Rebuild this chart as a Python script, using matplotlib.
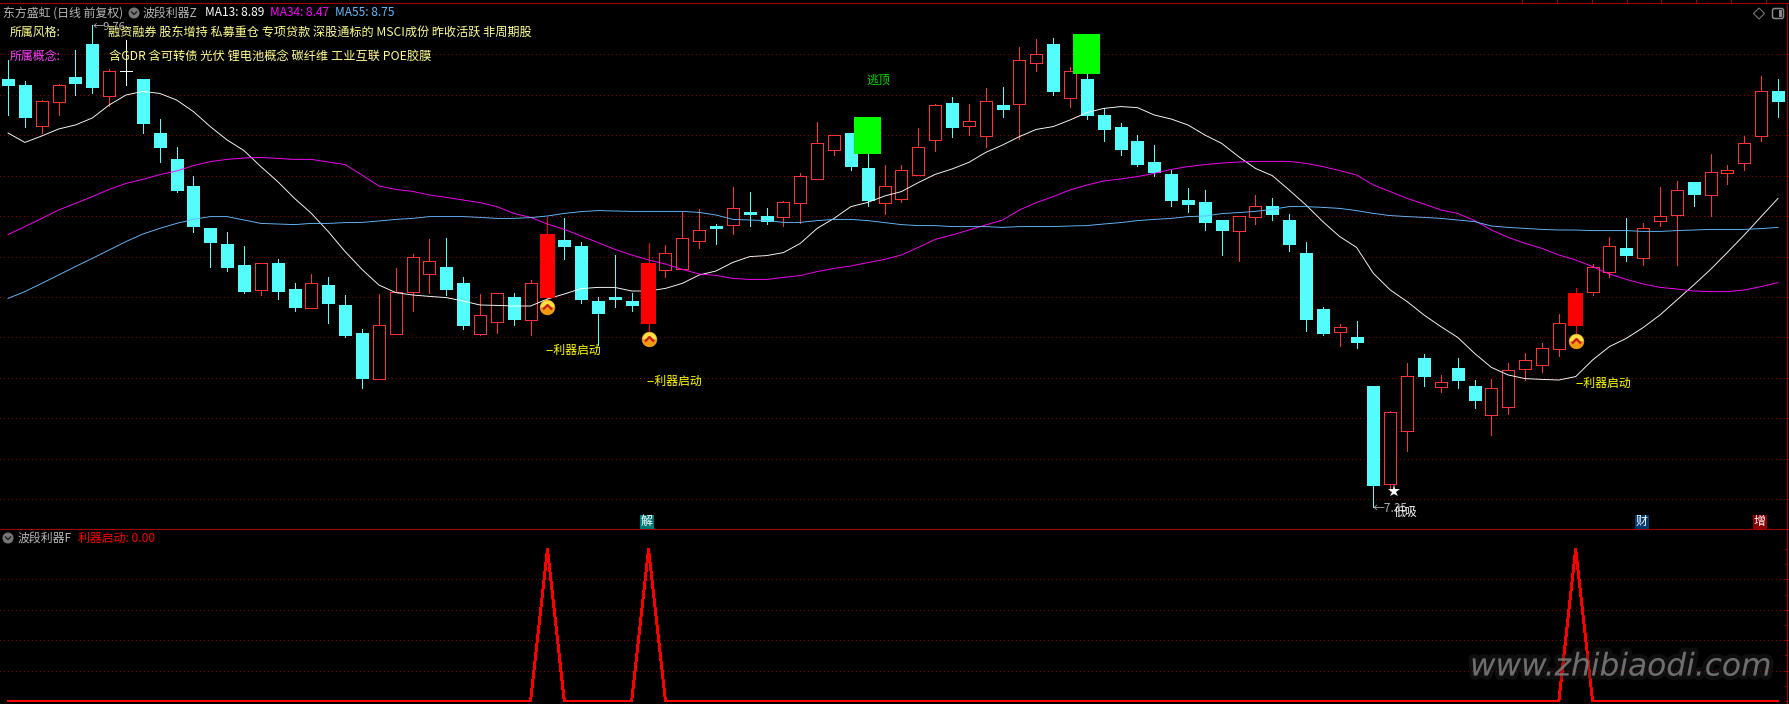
import matplotlib
matplotlib.use("Agg")
import matplotlib.pyplot as plt
import matplotlib.patheffects as pe
from matplotlib.path import Path
from matplotlib.patches import Circle, FancyBboxPatch, Polygon, Rectangle

plt.rcParams['font.family'] = ['Noto Sans CJK SC', 'DejaVu Sans']

opens = [9.487,9.457,9.254,9.374,9.497,9.662,9.404,9.527,9.487,9.217,
         9.087,8.952,8.742,8.662,8.557,8.434,8.567,8.437,8.344,8.457,
         8.357,8.217,7.989,8.214,8.424,8.514,8.547,8.467,8.214,8.274,
         8.397,8.284,8.392,8.682,8.652,8.377,8.397,8.377,8.262,8.534,
         8.535,8.679,8.752,8.759,8.822,8.802,8.799,8.869,8.987,9.134,
         9.217,9.042,8.869,8.887,9.009,9.184,9.367,9.254,9.204,9.357,
         9.364,9.569,9.662,9.394,9.487,9.307,9.247,9.177,9.072,9.012,
         8.882,8.872,8.782,8.729,8.797,8.852,8.782,8.617,8.337,8.224,
         8.197,7.952,7.464,7.729,8.092,7.949,8.042,7.952,7.809,7.849,
         8.039,8.059,8.139,8.252,8.424,8.524,8.642,8.594,8.779,8.809,
         8.972,8.909,9.019,9.069,9.204,9.427]
closes = [9.457,9.297,9.375,9.457,9.467,9.447,9.527,9.527,9.267,9.147,
          8.932,8.752,8.672,8.547,8.427,8.565,8.427,8.347,8.465,8.367,
          8.207,7.992,8.255,8.424,8.595,8.575,8.437,8.257,8.305,8.415,
          8.287,8.465,8.712,8.652,8.387,8.317,8.387,8.357,8.567,8.615,
          8.690,8.730,8.742,8.840,8.812,8.775,8.870,9.000,9.165,9.205,
          9.052,8.882,8.950,9.030,9.145,9.355,9.247,9.275,9.375,9.337,
          9.580,9.610,9.427,9.525,9.307,9.237,9.137,9.062,9.022,8.882,
          8.862,8.772,8.732,8.800,8.850,8.812,8.662,8.287,8.217,8.245,
          8.172,7.457,7.820,8.000,8.002,7.970,7.982,7.882,7.940,8.030,
          8.080,8.140,8.265,8.417,8.545,8.650,8.607,8.740,8.800,8.930,
          8.912,9.020,9.030,9.165,9.425,9.377]
highs = [9.582,9.477,9.382,9.462,9.632,9.757,9.537,9.682,9.487,9.287,
         9.147,9.002,8.742,8.722,8.652,8.565,8.587,8.467,8.512,8.497,
         8.407,8.237,8.412,8.542,8.612,8.687,8.692,8.497,8.412,8.415,
         8.417,8.482,8.797,8.792,8.672,8.397,8.607,8.417,8.667,8.657,
         8.822,8.837,8.762,8.947,8.922,8.842,8.877,9.017,9.272,9.205,
         9.217,9.112,9.057,9.057,9.242,9.362,9.397,9.362,9.442,9.447,
         9.647,9.687,9.692,9.547,9.512,9.342,9.267,9.207,9.157,9.032,
         8.942,8.932,8.782,8.800,8.907,8.892,8.812,8.672,8.347,8.262,
         8.277,7.952,7.827,8.067,8.112,8.007,8.092,7.982,7.987,8.067,
         8.117,8.167,8.312,8.442,8.562,8.697,8.792,8.767,8.947,8.977,
         8.972,9.112,9.057,9.202,9.502,9.487]
lows = [9.307,9.247,9.217,9.307,9.407,9.417,9.352,9.457,9.217,9.072,
        8.922,8.722,8.547,8.527,8.417,8.407,8.387,8.327,8.344,8.267,
        8.197,7.942,7.989,8.214,8.327,8.417,8.407,8.237,8.207,8.217,
        8.257,8.207,8.382,8.587,8.367,8.157,8.347,8.327,8.227,8.497,
        8.535,8.642,8.662,8.712,8.752,8.762,8.752,8.767,8.987,9.107,
        9.032,8.852,8.812,8.872,9.009,9.127,9.197,9.207,9.147,9.297,
        9.187,9.527,9.407,9.347,9.287,9.177,9.107,9.052,9.002,8.852,
        8.822,8.732,8.607,8.577,8.762,8.782,8.627,8.227,8.207,8.152,
        8.142,7.349,7.429,7.629,7.952,7.922,7.942,7.842,7.707,7.812,
        7.984,8.022,8.102,8.212,8.407,8.497,8.577,8.557,8.752,8.557,
        8.852,8.802,8.962,9.032,9.177,9.297]
ma13 = [9.217,9.170,9.202,9.237,9.257,9.292,9.357,9.407,9.425,9.415,
        9.382,9.324,9.249,9.182,9.129,9.049,8.974,8.890,8.815,8.724,
        8.624,8.535,8.457,8.419,8.407,8.400,8.394,8.377,8.357,8.355,
        8.352,8.352,8.387,8.412,8.439,8.445,8.445,8.427,8.427,8.440,
        8.465,8.507,8.527,8.570,8.599,8.604,8.619,8.665,8.740,8.790,
        8.849,8.870,8.902,8.924,8.969,9.010,9.037,9.070,9.120,9.157,
        9.199,9.235,9.249,9.282,9.319,9.340,9.349,9.344,9.307,9.287,
        9.257,9.207,9.165,9.099,9.040,9.004,8.932,8.857,8.774,8.699,
        8.645,8.515,8.432,8.374,8.307,8.249,8.195,8.115,8.045,8.007,
        7.989,7.985,7.982,7.999,8.082,8.149,8.190,8.244,8.307,8.382,
        8.457,8.535,8.620,8.707,8.799,8.890]
ma34 = [8.709,8.749,8.790,8.832,8.865,8.899,8.935,8.965,8.985,9.009,
        9.027,9.054,9.074,9.085,9.092,9.095,9.090,9.085,9.085,9.072,
        9.059,9.007,8.952,8.935,8.925,8.907,8.895,8.882,8.869,8.849,
        8.815,8.795,8.762,8.735,8.702,8.669,8.635,8.607,8.582,8.562,
        8.535,8.512,8.505,8.490,8.485,8.485,8.495,8.504,8.524,8.540,
        8.552,8.569,8.585,8.607,8.645,8.685,8.707,8.732,8.757,8.782,
        8.832,8.869,8.899,8.932,8.957,8.977,8.987,8.999,9.015,9.035,
        9.049,9.059,9.067,9.072,9.075,9.075,9.075,9.065,9.049,9.029,
        9.007,8.957,8.924,8.890,8.862,8.832,8.815,8.779,8.732,8.695,
        8.665,8.640,8.607,8.582,8.549,8.512,8.485,8.462,8.445,8.437,
        8.427,8.424,8.424,8.432,8.449,8.469]
ma55 = [8.390,8.424,8.465,8.507,8.549,8.590,8.632,8.674,8.712,8.740,
        8.765,8.785,8.799,8.799,8.782,8.765,8.762,8.759,8.765,8.765,
        8.769,8.770,8.777,8.785,8.790,8.799,8.799,8.799,8.795,8.790,
        8.790,8.794,8.802,8.815,8.824,8.829,8.827,8.825,8.825,8.825,
        8.825,8.820,8.807,8.785,8.782,8.779,8.770,8.770,8.779,8.785,
        8.785,8.779,8.769,8.759,8.754,8.754,8.749,8.749,8.749,8.745,
        8.749,8.749,8.749,8.752,8.754,8.762,8.769,8.779,8.785,8.790,
        8.799,8.802,8.814,8.819,8.825,8.835,8.849,8.849,8.845,8.840,
        8.829,8.815,8.804,8.799,8.795,8.790,8.782,8.774,8.752,8.745,
        8.740,8.735,8.732,8.732,8.729,8.729,8.729,8.725,8.725,8.729,
        8.732,8.735,8.735,8.735,8.739,8.745]

signal_idx = [32, 38, 93]
signal_icon_prices = [8.345, 8.187, 8.177]
signal_text_x = [31.9, 37.9, 92.96]
signal_text_prices = [8.132, 7.977, 7.967]
signal_label = "--利器启动"
signal_series = [1 if i in signal_idx else 0 for i in range(len(opens))]
escape_idx = [51, 64]
escape_top = [9.297, 9.712]
escape_bottom = [9.112, 9.512]
escape_label = "逃顶"
main_grid = [9.6105,9.4055,9.2055,9.0005,8.8005,8.5955,8.3955,8.1955,7.9905,7.7905,7.5855,7.3855]
sub_grid = [0.2, 0.4, 0.6, 0.8]
style_tags = "融资融券 股东增持 私募重仓 专项贷款 深股通标的 MSCI成份 昨收活跃 非周期股"
concept_tags = "含GDR 含可转债 光伏 锂电池概念 碳纤维 工业互联 POE胶膜"

W, H = 1789, 704
UP = '#FF3232'
DOWN = '#54FCFC'
GRID = '#8A0000'
AXIS = '#A80000'
PX = 0.72
THIN = 0.66

fig = plt.figure(figsize=(W / 100, H / 100), dpi=100, facecolor='black')
ax = fig.add_axes([0, (H - 529) / H, 1, 529 / H], facecolor='black')
sub = fig.add_axes([0, 0, 1, (H - 529) / H], facecolor='black')
over = fig.add_axes([0, 0, 1, 1], facecolor='none')
for a in (ax, sub, over):
    a.set_xticks([]); a.set_yticks([])
    for s in a.spines.values():
        s.set_visible(False)
x0 = -8 / 16.857
x1 = (W - 8) / 16.857
ax.set_xlim(x0, x1); ax.set_ylim(9.882 - 529 / 200, 9.882)
sub.set_xlim(x0, x1); sub.set_ylim(-3 / 152, 1 + 20 / 152)
over.set_xlim(0, W); over.set_ylim(H, 0)

for g in main_grid:
    ax.axhline(g, color=GRID, lw=PX, ls=(0, (1, 3)), antialiased=False, zorder=1)
for g in sub_grid:
    sub.axhline(g, color=GRID, lw=PX, ls=(0, (1, 3)), antialiased=False, zorder=1)

n = len(opens)
xs = list(range(n))
for i in xs:
    o, c, h, l = opens[i], closes[i], highs[i], lows[i]
    if i in signal_idx:
        ax.vlines(i, l, h, color='#FF0000', lw=THIN, antialiased=False, zorder=2)
        ax.bar(i, c - o, bottom=o, width=0.89, color='#FF0000', lw=0, zorder=5)
        continue
    col = UP if c > o else (DOWN if c < o else '#FFFFFF')
    ax.vlines(i, l, h, color=col, lw=THIN, antialiased=False, zorder=2)
    face = 'black' if c > o else col
    ax.bar(i, abs(c - o), bottom=min(o, c), width=0.712, facecolor=face, edgecolor=col,
           lw=THIN, antialiased=False, zorder=3)

ax.plot(xs, ma13, color='#FFFFFF', lw=THIN, zorder=4)
ax.plot(xs, ma34, color='#FF00FF', lw=THIN, zorder=4)
ax.plot(xs, ma55, color='#66BBFF', lw=THIN, zorder=4)

for i, t, b in zip(escape_idx, escape_top, escape_bottom):
    ax.bar(i, t - b, bottom=b, width=1.6, color='#00FF00', lw=0, zorder=6)
ax.text(51 - 0.05, 9.482, escape_label, color='#00E000', fontsize=8.6, va='center', ha='left', zorder=7)

chev = Path([(-1, -0.45), (0, 0.55), (1, -0.45)], [Path.MOVETO, Path.LINETO, Path.LINETO])
for i, p, tx, tp in zip(signal_idx, signal_icon_prices, signal_text_x, signal_text_prices):
    ax.plot([i], [p], marker='o', ms=10.6, mfc='#FFE040', mfcalt='#F59A10', fillstyle='top',
            mec='#F8B020', mew=0.4, zorder=7, ls='none')
    ax.plot([i], [p], marker=chev, ms=6.5, mfc='none', mec='#C81818', mew=1.6, zorder=8, ls='none')
    ax.text(tx, tp, signal_label, color='#FFFF00', fontsize=8.6, va='center', ha='left', zorder=7)

ax.plot([82.22], [7.427], marker='*', ms=9.5, color='white', mew=0, zorder=7, ls='none')
ax.text(5.0 + 0.02, 9.747, "←9.76", color='#B8B8B8', fontsize=8, va='center', ha='left', zorder=3)
ax.text(81.0 - 0.03, 7.342, "←7.35", color='#B0B0B0', fontsize=8.6, va='center', ha='left', zorder=7)
ax.text(82.2, 7.322, "低吸", color='white', fontsize=8.6, va='center', ha='left', zorder=8)

sub.plot(xs, signal_series, color='#FF0000', lw=PX * 1.9, antialiased=False, zorder=3)

# frame
over.hlines(3, 0, W, color=AXIS, lw=THIN, antialiased=False)
over.hlines(529, 0, W, color=AXIS, lw=THIN, antialiased=False)
over.vlines(1787, 3, H, color=AXIS, lw=THIN, antialiased=False)
for k in range(8):
    over.vlines(1522 + k * 34.86, 0, 3, color=AXIS, lw=THIN, antialiased=False)
for k in range(11):
    over.hlines(549 + k * 15.2, 1785, 1787, color=AXIS, lw=THIN, antialiased=False)

# header and tags
def label(x, y, s, color, size=8.6, z=9, **kw):
    over.text(x, y, s, color=color, fontsize=size, va='center', ha='left', zorder=z, **kw)

def icon(cx, cy):
    over.add_patch(Circle((cx, cy), 5.5, fc='#777777', ec='none', zorder=9))
    over.plot([cx - 2.5, cx, cx + 2.5], [cy - 1, cy + 1.5, cy - 1], color='#222222', lw=1.1, zorder=10)

label(3, 13, "东方盛虹 (日线 前复权)", '#B8B8B8')
icon(134, 13)
label(143, 13, "波段利器Z", '#B8B8B8')
label(205, 13, "MA13: 8.89", '#FFFFFF')
label(270, 13, "MA34: 8.47", '#FF00FF')
label(335, 13, "MA55: 8.75", '#66BBFF')
label(10, 32, "所属风格:", '#FFFF8C')
label(10, 56, "所属概念:", '#FF40FF')
label(108, 32.5, style_tags, '#FFFF8C', size=8.72)
label(109, 56, concept_tags, '#FFFF8C', size=8.8)
icon(8, 538)
label(18, 538, "波段利器F", '#B8B8B8')
label(78, 538, "利器启动: 0.00", '#FF0000')

# window buttons
over.add_patch(Polygon([(1759, 8), (1764.5, 13.5), (1759, 19), (1753.5, 13.5)], closed=True,
                       fc='none', ec='#777777', lw=0.8))
over.add_patch(FancyBboxPatch((1773, 9), 10, 9, boxstyle='round,pad=0.5,rounding_size=2',
                              fc='none', ec='#888888', lw=1.1))
over.add_patch(Rectangle((1779, 10), 3, 7, fc='#888888', ec='none'))

# badges
for bx, ch, col in [(640, "解", '#007878'), (1635, "财", '#003A70'), (1753, "增", '#8B0000')]:
    over.add_patch(Rectangle((bx, 515), 13.5, 14, fc=col, ec='none', zorder=9))
    over.text(bx + 6.7, 521.8, ch, color='white', fontsize=8.6, ha='center', va='center', zorder=10)

# watermark
wm = over.text(1470, 667, "www.zhibiaodi.com", color='#808080', alpha=0.8, fontsize=22.5,
               family='DejaVu Sans', style='oblique', ha='left', va='center', zorder=12)
wm.set_path_effects([pe.Stroke(linewidth=6, foreground='#2A2A2A', alpha=0.35), pe.Normal()])

fig.savefig('out.png', dpi=100, facecolor='black')
